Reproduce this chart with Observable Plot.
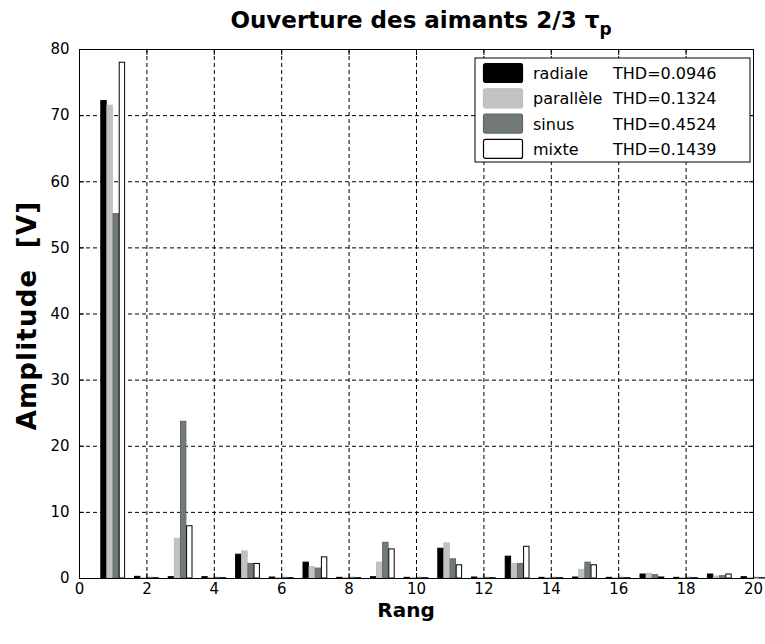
<!DOCTYPE html>
<html>
<head>
<meta charset="utf-8">
<script src="https://cdn.jsdelivr.net/npm/d3@7"></script>
<script src="https://cdn.jsdelivr.net/npm/@observablehq/plot@0.6"></script>
<style>
  body { margin: 0; background: #fff; }
  #chart svg { display: block; }
</style>
</head>
<body>
<div id="chart"></div>
<script>
// Harmonic ranks and amplitudes (V) for each magnet magnetisation
const ranks     = [1, 2, 3, 4, 5, 6, 7, 8, 9, 10, 11, 12, 13, 14, 15, 16, 17, 18, 19, 20];
const radiale   = [72.2, 0.25, 0.2, 0.2, 3.6, 0.15, 2.4, 0.1, 0.2, 0.1, 4.5, 0.15, 3.3, 0.1, 0.15, 0.1, 0.6, 0.1, 0.6, 0.2];
const parallele = [71.5, 0.05, 6.0, 0.05, 4.1, 0.05, 1.7, 0.05, 2.4, 0.05, 5.3, 0.05, 2.2, 0.05, 1.3, 0.05, 0.7, 0.05, 0.3, 0.05];
const sinus     = [55.1, 0.1, 23.7, 0.1, 2.2, 0.1, 1.5, 0.1, 5.4, 0.1, 2.9, 0.1, 2.2, 0.1, 2.4, 0.1, 0.5, 0.1, 0.35, 0.1];
const mixte     = [78.0, 0.05, 7.9, 0.05, 2.2, 0.05, 3.2, 0.05, 4.4, 0.05, 2.0, 0.05, 4.8, 0.05, 2.0, 0.05, 0.15, 0.05, 0.6, 0.05];

const seriesNames = ["radiale", "parallèle", "sinus", "mixte"];
const thdValues   = ["0.0946", "0.1324", "0.4524", "0.1439"];
const fills       = ["#000000", "#c2c2c2", "#717979", "#ffffff"];
const strokes     = ["#000000", "#bcbcbc", "#5f6767", "#000000"];

const xTicks = [0, 2, 4, 6, 8, 10, 12, 14, 16, 18, 20];
const yTicks = [0, 10, 20, 30, 40, 50, 60, 70, 80];

const titleText = "Ouverture des aimants 2/3 τ";
const titleSub  = "p";
const xLabel = "Rang";
const yLabel = "Amplitude  [V]";

// grouped bars: four series side by side around each rank
const groupOffsets = [-0.273, -0.091, 0.091, 0.273];
const barWidth = 0.16;
const seriesValues = [radiale, parallele, sinus, mixte];
const bars = seriesValues.flatMap((vals, i) =>
  ranks.map((r, j) => ({ rank: r, value: vals[j], s: i }))
);

const W = 765, H = 644;
const FONT = "'DejaVu Sans', 'Liberation Sans', Arial, sans-serif";

const plot = Plot.plot({
  width: W,
  height: H,
  marginLeft: 79,
  marginRight: 12,
  marginTop: 49,
  marginBottom: 66,
  style: { fontFamily: FONT, fontSize: "15px", background: "#fff", color: "#000" },
  x: { domain: [0, 20], label: null },
  y: { domain: [0, 80], label: null },
  color: { type: "identity" },
  marks: [
    // dashed grid
    Plot.ruleX(xTicks.filter(t => t > 0 && t < 20), { stroke: "#000", strokeDasharray: "4,3", strokeWidth: 1 }),
    Plot.ruleY(yTicks.filter(t => t > 0 && t < 80), { stroke: "#000", strokeDasharray: "4,3", strokeWidth: 1 }),
    // bars
    Plot.rect(bars, {
      x1: d => d.rank + groupOffsets[d.s] - barWidth / 2,
      x2: d => d.rank + groupOffsets[d.s] + barWidth / 2,
      y1: 0,
      y2: "value",
      fill: d => fills[d.s],
      stroke: d => strokes[d.s],
      strokeWidth: 1
    }),
    // axes: labels outside, short ticks pointing inward on all four sides
    Plot.axisX(xTicks, { anchor: "bottom", tickSize: 0, tickPadding: 5, fontSize: 15 }),
    Plot.axisY(yTicks, { anchor: "left", tickSize: 0, tickPadding: 10, fontSize: 15 }),
    Plot.axisX(xTicks, { anchor: "bottom", tickSize: 5, inset: 5, tickFormat: () => "" }),
    Plot.axisX(xTicks, { anchor: "top", tickSize: 5, inset: 5, tickFormat: () => "" }),
    Plot.axisY(yTicks, { anchor: "left", tickSize: 5, inset: 5, tickFormat: () => "" }),
    Plot.axisY(yTicks, { anchor: "right", tickSize: 5, inset: 5, tickFormat: () => "" }),
    Plot.frame({ stroke: "#000", strokeWidth: 1 })
  ]
});

document.getElementById("chart").appendChild(plot);

// title, axis labels and legend drawn into the same SVG
const svg = d3.select(plot);
const plotLeft = 79, plotRight = W - 12, plotTop = 49, plotBottom = H - 66;
const cx = (plotLeft + plotRight) / 2;

const title = svg.append("text")
  .attr("x", cx + 5).attr("y", 28)
  .attr("text-anchor", "middle")
  .attr("font-family", FONT).attr("font-weight", "bold").attr("font-size", 23)
  .attr("fill", "#000")
  .text(titleText);
title.append("tspan").attr("dy", 7).attr("font-size", 17).text(titleSub);

svg.append("text")
  .attr("x", cx - 10).attr("y", 617)
  .attr("text-anchor", "middle")
  .attr("font-family", FONT).attr("font-weight", "bold").attr("font-size", 20)
  .attr("fill", "#000")
  .text(xLabel);

svg.append("text")
  .attr("transform", `translate(36,${(plotTop + plotBottom) / 2 + 2}) rotate(-90)`)
  .attr("text-anchor", "middle")
  .attr("xml:space", "preserve")
  .style("white-space", "pre")
  .attr("letter-spacing", 1.2)
  .attr("font-family", FONT).attr("font-weight", "bold").attr("font-size", 26)
  .attr("fill", "#000")
  .text(yLabel);

// legend box
const lg = svg.append("g").attr("transform", "translate(475,58)");
lg.append("rect").attr("width", 275).attr("height", 104)
  .attr("fill", "#fff").attr("stroke", "#000").attr("stroke-width", 1);
seriesNames.forEach((name, i) => {
  const y = 15 + i * 25.3;
  lg.append("rect").attr("x", 8.5).attr("y", y - 9.5).attr("width", 39).attr("height", 19)
    .attr("rx", 2)
    .attr("fill", fills[i]).attr("stroke", strokes[i]).attr("stroke-width", 1.2);
  lg.append("text").attr("x", 58).attr("y", y + 6)
    .attr("text-anchor", "start")
    .attr("font-family", FONT).attr("font-size", 16).attr("fill", "#000")
    .text(name);
  lg.append("text").attr("x", 138).attr("y", y + 6)
    .attr("text-anchor", "start")
    .attr("font-family", FONT).attr("font-size", 16).attr("fill", "#000")
    .text("THD=" + thdValues[i]);
});
</script>
</body>
</html>
